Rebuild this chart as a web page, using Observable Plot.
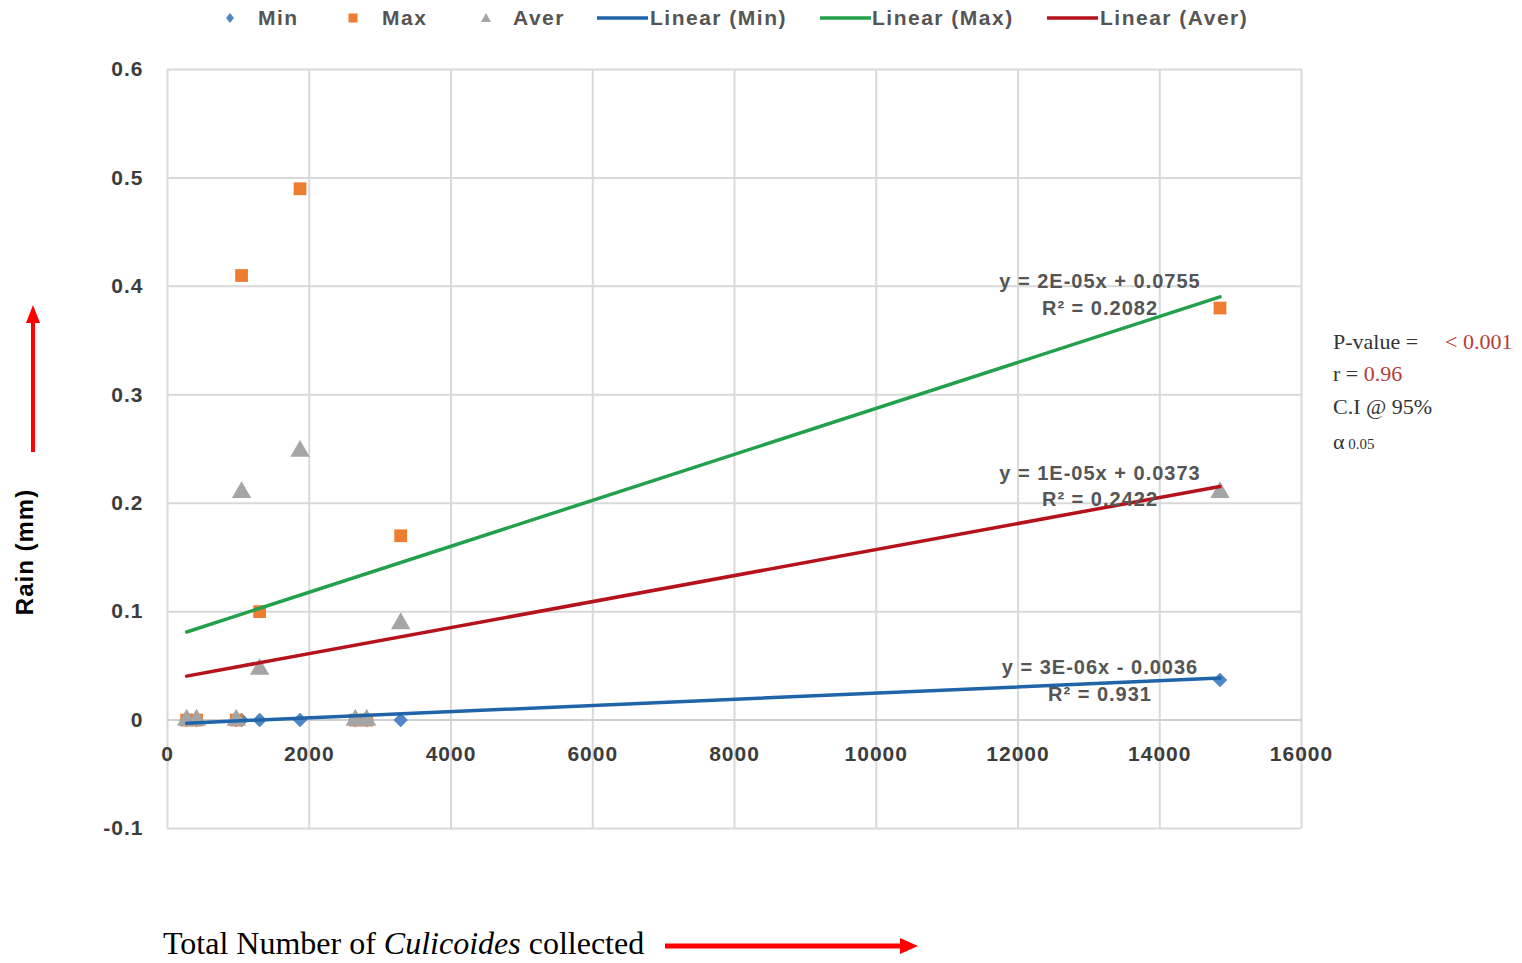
<!DOCTYPE html>
<html>
<head>
<meta charset="utf-8">
<script src="https://cdn.jsdelivr.net/npm/d3@7"></script>
<script src="https://cdn.jsdelivr.net/npm/@observablehq/plot@0.6"></script>
<style>
  html, body { margin: 0; padding: 0; background: #fff; }
  body { width: 1522px; height: 963px; position: relative; overflow: hidden; font-family: "Liberation Sans", Arial, sans-serif; }
  #chart { position: absolute; left: 0; top: 0; }
  #chart svg text { letter-spacing: 1px; }
  .leg { position: absolute; top: 0; height: 36px; line-height: 36px; font-size: 21px; font-weight: bold; color: #555; letter-spacing: 1.5px; white-space: nowrap; }
  .legsym { position: absolute; top: 0; }
  .ann { position: absolute; font-family: "Liberation Serif", "Times New Roman", serif; font-size: 22px; color: #333; white-space: nowrap; }
  .red { color: #b83a3a; }
  #ylab { position: absolute; left: 25px; top: 552px; transform: translate(-50%, -50%) rotate(-90deg); font-weight: bold; font-size: 24px; letter-spacing: 1px; color: #000; white-space: nowrap; }
  #xlab { position: absolute; left: 163px; top: 925px; font-family: "Liberation Serif", "Times New Roman", serif; font-size: 32px; color: #000; white-space: nowrap; }
  #arrows { position: absolute; left: 0; top: 0; }
</style>
</head>
<body>
<div id="chart"></div>

<div id="legend"></div>

<div id="ylab">Rain (mm)</div>
<div id="xlab">Total Number of <i>Culicoides</i> collected</div>

<div class="ann" style="left:1333px; top:329px;">P-value =</div>
<div class="ann red" style="left:1445px; top:329px;">&lt; 0.001</div>
<div class="ann" style="left:1333px; top:361px;">r = <span class="red">0.96</span></div>
<div class="ann" style="left:1333px; top:394px;">C.I @ 95%</div>
<div class="ann" style="left:1333px; top:429px;">α<span style="font-size:15px;"> 0.05</span></div>

<svg id="arrows" width="1522" height="963">
  <line x1="33" y1="452" x2="33" y2="322" stroke="#ff0000" stroke-width="4"/>
  <polygon points="33,305 26,323 40,323" fill="#ff0000"/>
  <line x1="665" y1="946" x2="902" y2="946" stroke="#ff0000" stroke-width="5"/>
  <polygon points="918,946 900,938 900,954" fill="#ff0000"/>
</svg>

<script>
// ---- data ----
const sampleX = [270, 410, 970, 1045, 1300, 1870, 2650, 2810, 3290, 14850];
const minRain = [0, 0, 0, 0, 0, 0, 0, 0, 0, 0.037];
const maxRain = [0, 0, 0, 0.41, 0.10, 0.49, 0, 0, 0.17, 0.38];
const averRain = [0, 0, 0, 0.21, 0.047, 0.248, 0, 0, 0.089, 0.21];

// trendlines (Excel linear fits as drawn)
const fitNames = ["Min", "Max", "Aver"];
const fitSlope = [2.85e-6, 2.12e-5, 1.2e-5];
const fitIntercept = [-0.0036, 0.0755, 0.0373];
const fitEquation = ["y = 3E-06x - 0.0036", "y = 2E-05x + 0.0755", "y = 1E-05x + 0.0373"];
const fitR2 = ["R² = 0.931", "R² = 0.2082", "R² = 0.2422"];

const xTicks = [0, 2000, 4000, 6000, 8000, 10000, 12000, 14000, 16000];
const yTicks = [-0.1, 0, 0.1, 0.2, 0.3, 0.4, 0.5, 0.6];

// ---- styling ----
const seriesColor = { Min: "#4f86c6", Max: "#ed7d31", Aver: "#a5a5a5" };
const fitColor = { Min: "#1f64a8", Max: "#22a04b", Aver: "#b5121b" };
const fitEqDy = { Min: [-10, 17], Max: [-15, 12], Aver: [-13, 13] };

// ---- tables ----
const points = [];
sampleX.forEach((x, i) => {
  points.push({ series: "Min", x, y: minRain[i] });
  points.push({ series: "Max", x, y: maxRain[i] });
  points.push({ series: "Aver", x, y: averRain[i] });
});
const xMin = d3.min(sampleX), xMax = d3.max(sampleX);
const fitLines = [];
const fitLabels = [];
fitNames.forEach((s, i) => {
  for (const x of [xMin, xMax]) fitLines.push({ series: s, x, y: fitSlope[i] * x + fitIntercept[i] });
  fitLabels.push({ series: s, x: xMax, y: fitSlope[i] * xMax + fitIntercept[i], eq: fitEquation[i], r2: fitR2[i] });
});

const labelMarks = [];
for (const lab of fitLabels) {
  const [dy1, dy2] = fitEqDy[lab.series];
  labelMarks.push(Plot.text([lab], { x: "x", y: "y", text: "eq", dx: -120, dy: dy1, fontSize: 20, fontWeight: "bold", fill: "#555" }));
  labelMarks.push(Plot.text([lab], { x: "x", y: "y", text: "r2", dx: -120, dy: dy2, fontSize: 20, fontWeight: "bold", fill: "#555" }));
}

const chart = Plot.plot({
  width: 1522,
  height: 880,
  marginTop: 69,
  marginBottom: 52,
  marginLeft: 167,
  marginRight: 221,
  style: { background: "transparent", fontFamily: "'Liberation Sans', Arial, sans-serif" },
  x: { domain: [0, 16000], axis: null },
  y: { domain: [-0.1, 0.6], label: null },
  marks: [
    Plot.gridY(yTicks, { stroke: "#d9d9d9", strokeOpacity: 1, strokeWidth: 2 }),
    Plot.gridX(xTicks, { stroke: "#d9d9d9", strokeOpacity: 1, strokeWidth: 2 }),
    Plot.ruleY([0], { stroke: "#d0d0d0", strokeWidth: 2 }),
    Plot.axisY(yTicks, { tickSize: 0, tickPadding: 24, fontSize: 21, fontWeight: "bold", fill: "#3c3c3c", label: null, tickFormat: d => String(d) }),
    Plot.text(xTicks, { x: d => d, y: 0, dy: 34, text: d => String(d), fontSize: 21, fontWeight: "bold", fill: "#3c3c3c" }),
    Plot.dot(points.filter(d => d.series === "Min"), { x: "x", y: "y", symbol: "diamond2", r: 6.5, fill: seriesColor.Min }),
    Plot.dot(points.filter(d => d.series === "Max"), { x: "x", y: "y", symbol: "square", r: 7.2, fill: seriesColor.Max }),
    Plot.dot(points.filter(d => d.series === "Aver"), { x: "x", y: "y", symbol: "triangle", r: 7.2, fill: seriesColor.Aver }),
    Plot.line(fitLines, { x: "x", y: "y", z: "series", stroke: d => fitColor[d.series], strokeWidth: 3.5 }),
    ...labelMarks
  ]
});
document.getElementById("chart").append(chart);

// ---- legend ----
const legend = document.getElementById("legend");
const legendItems = [
  { label: "Min", sym: "diamond", color: seriesColor.Min, symX: 230, textX: 258 },
  { label: "Max", sym: "square", color: seriesColor.Max, symX: 353, textX: 382 },
  { label: "Aver", sym: "triangle", color: seriesColor.Aver, symX: 486, textX: 513 },
  { label: "Linear (Min)", sym: "line", color: fitColor.Min, symX: 622, textX: 650 },
  { label: "Linear (Max)", sym: "line", color: fitColor.Max, symX: 845, textX: 872 },
  { label: "Linear (Aver)", sym: "line", color: fitColor.Aver, symX: 1072, textX: 1100 }
];
for (const it of legendItems) {
  const s = document.createElementNS("http://www.w3.org/2000/svg", "svg");
  s.setAttribute("class", "legsym");
  s.setAttribute("width", 60); s.setAttribute("height", 36);
  s.style.left = (it.symX - 30) + "px";
  let inner = "";
  if (it.sym === "diamond") inner = `<polygon points="30,13 34,18 30,23 26,18" fill="${it.color}"/>`;
  else if (it.sym === "square") inner = `<rect x="25.5" y="13.5" width="9" height="9" fill="${it.color}"/>`;
  else if (it.sym === "triangle") inner = `<polygon points="30,13 35,22 25,22" fill="${it.color}"/>`;
  else inner = `<line x1="5" x2="56" y1="18" y2="18" stroke="${it.color}" stroke-width="3.5"/>`;
  s.innerHTML = inner;
  legend.append(s);
  const t = document.createElement("div");
  t.className = "leg";
  t.style.left = it.textX + "px";
  t.textContent = it.label;
  legend.append(t);
}
</script>
</body>
</html>
